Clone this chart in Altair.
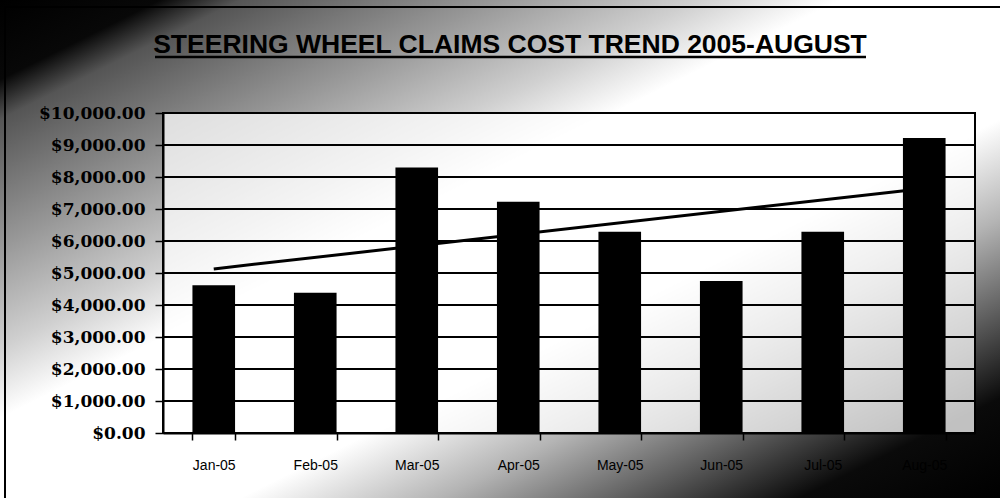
import json
import altair as alt
import pandas as pd

months = ["Jan-05", "Feb-05", "Mar-05", "Apr-05", "May-05", "Jun-05", "Jul-05", "Aug-05"]
costs = [4620, 4380, 8300, 7230, 6290, 4750, 6290, 9220]
month_index = [0, 1, 2, 3, 4, 5, 6, 7]
y_ticks = [0, 1000, 2000, 3000, 4000, 5000, 6000, 7000, 8000, 9000, 10000]
title_text = "STEERING WHEEL CLAIMS COST TREND 2005-AUGUST"

df = pd.DataFrame({"Month": months, "Cost": costs, "Idx": month_index})
grid_df = pd.DataFrame({"Cost": y_ticks})
one = pd.DataFrame({"k": [0]})

W, H = 812, 320
PAD_L, PAD_T = 163, 113

y_scale = alt.Scale(domain=[0, 10000], nice=False)
x_scale = alt.Scale(paddingInner=0.58, paddingOuter=0.29)

x_axis = alt.Axis(title=None, labelAngle=0, labelFont="Liberation Sans", labelFontSize=14,
                  labelColor="black", labelPadding=18, tickBand="extent", tickSize=7,
                  tickColor="black", tickWidth=1.5, domainColor="black", domainWidth=2,
                  grid=False, zindex=1)
y_axis = alt.Axis(title=None, values=y_ticks, format="$,.2f", labelFont="DejaVu Serif",
                  labelFontWeight="bold", labelFontSize=17, labelColor="black",
                  labelPadding=10, tickSize=8, tickColor="black", tickWidth=1.5,
                  domainColor="black", domainWidth=2, grid=False, zindex=1)

full = dict(x=alt.value(-PAD_L), x2=alt.value(1000 - PAD_L), y=alt.value(-PAD_T), y2=alt.value(498 - PAD_T))

# decorative diagonal background: dark top-left, white centre, black bottom-right
bg = alt.Chart(one).mark_rect(
    fill={"gradient": "linear", "x1": 0, "y1": 0, "x2": 1, "y2": 1,
          "stops": [{"offset": 0.0, "color": "#000000"},
                    {"offset": 0.08, "color": "#080808"},
                    {"offset": 0.12, "color": "#555555"},
                    {"offset": 0.25, "color": "#999999"},
                    {"offset": 0.35, "color": "#d0d0d0"},
                    {"offset": 0.42, "color": "#ffffff"},
                    {"offset": 0.62, "color": "#ffffff"},
                    {"offset": 0.72, "color": "#b4b4b4"},
                    {"offset": 0.81, "color": "#606060"},
                    {"offset": 0.9, "color": "#0a0a0a"},
                    {"offset": 1.0, "color": "#000000"}]}
).encode(**full)

outer = alt.Chart(one).mark_rect(fillOpacity=0, stroke="black", strokeWidth=2).encode(
    x=alt.value(5 - PAD_L), x2=alt.value(1005 - PAD_L), y=alt.value(7 - PAD_T), y2=alt.value(510 - PAD_T)
)

plot_bg = alt.Chart(one).mark_rect(
    fill="white", fillOpacity=0.75, stroke="black", strokeWidth=2
).encode(x=alt.value(0), x2=alt.value(W), y=alt.value(0), y2=alt.value(H))

title = alt.Chart(one).mark_text(
    font="Liberation Sans", fontSize=26.5, fontWeight="bold", color="black",
    align="center", baseline="alphabetic"
).encode(x=alt.value(510 - PAD_L), y=alt.value(53 - PAD_T), text=alt.value(title_text))

underline = alt.Chart(one).mark_rule(color="black", strokeWidth=2.5).encode(
    x=alt.value(155 - PAD_L), x2=alt.value(866 - PAD_L), y=alt.value(57 - PAD_T)
)

grid = alt.Chart(grid_df).mark_rule(color="black", strokeWidth=2).encode(
    y=alt.Y("Cost:Q", scale=y_scale, axis=y_axis)
)

trend = alt.Chart(df).transform_regression(
    "Idx", "Cost", extent=[0, 7]
).transform_filter(
    "abs(datum.Idx - round(datum.Idx)) < 1e-6"
).transform_calculate(
    Month=f"{json.dumps(months)}[round(datum.Idx)]"
).mark_line(color="black", strokeWidth=3).encode(
    x=alt.X("Month:N", sort=months, scale=x_scale, axis=x_axis),
    y=alt.Y("Cost:Q", scale=y_scale, axis=y_axis),
)

bars = alt.Chart(df).mark_bar(color="black").encode(
    x=alt.X("Month:N", sort=months, scale=x_scale, axis=x_axis),
    y=alt.Y("Cost:Q", scale=y_scale, axis=y_axis),
)

chart = alt.layer(bg, outer, plot_bg, title, underline, grid, trend, bars).properties(
    width=W, height=H,
    autosize=alt.AutoSizeParams(type="none"),
    padding={"left": PAD_L, "top": PAD_T, "right": 1000 - PAD_L - W, "bottom": 498 - PAD_T - H},
).configure_view(stroke=None).configure(background="white")

chart.save("out.html", embed_options={"renderer": "svg", "actions": False})
